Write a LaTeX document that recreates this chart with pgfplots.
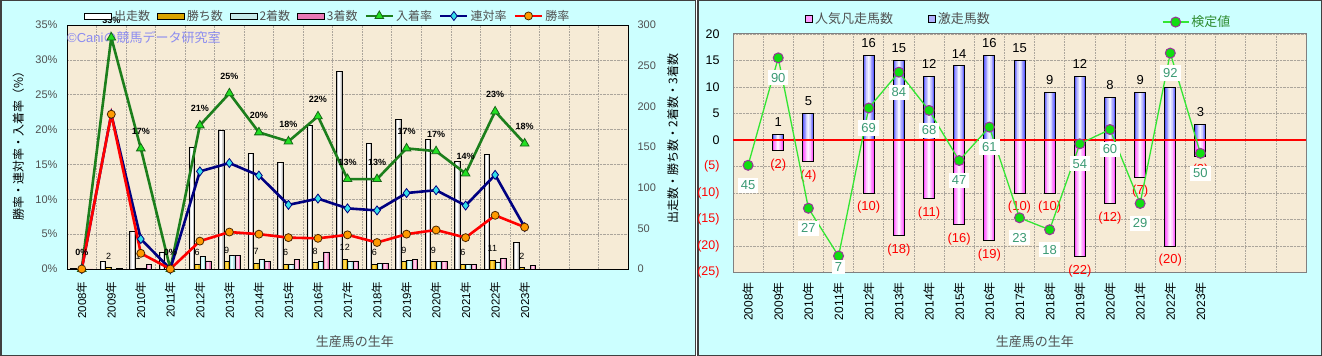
\documentclass[border=0pt]{standalone}
\usepackage{pgfplots}
\usepackage{pgfplotstable}
\pgfplotsset{compat=1.18}
\usepackage{fontspec}
\setmainfont{Liberation Sans}
\newfontfamily\jp{Noto Sans CJK JP}
\newcommand{\fs}[1]{\fontsize{#1bp}{#1bp}\selectfont}
\newcommand{\nen}[1]{#1{\jp 年}}
\definecolor{panel}{HTML}{CCFFFF}
\definecolor{plotbg}{HTML}{F6EBD6}
\definecolor{gridc}{HTML}{ABA59B}
\definecolor{ticktext}{HTML}{505050}
\definecolor{wbD}{HTML}{BDBDBD}
\definecolor{goldD}{HTML}{D9A300}
\definecolor{goldL}{HTML}{FFD84A}
\definecolor{cyD}{HTML}{9FDCDC}
\definecolor{cyL}{HTML}{E4FFFF}
\definecolor{pkD}{HTML}{E978B6}
\definecolor{pkL}{HTML}{FFD0E8}
\definecolor{grnL}{HTML}{1C7F1C}
\definecolor{limeM}{HTML}{22E022}
\definecolor{navyL}{HTML}{000080}
\definecolor{cyanM}{HTML}{33E0E8}
\definecolor{orangeM}{HTML}{FF9A00}
\definecolor{blD}{HTML}{6262FF}
\definecolor{blL}{HTML}{F2F2FF}
\definecolor{mgD}{HTML}{FF55FF}
\definecolor{mgL}{HTML}{FFF0FF}
\definecolor{kline}{HTML}{33E633}
\definecolor{kball}{HTML}{11DD11}
\definecolor{kedge}{HTML}{993399}
\definecolor{ktext}{HTML}{3A9A74}
\definecolor{klegend}{HTML}{2E8B2E}
\definecolor{wm}{HTML}{8C8CF0}
\definecolor{frameC}{HTML}{404040}
\pgfplotsset{/pgf/number format/assume math mode=true}

% left panel counts: 出走数, 勝ち数, 2着数, 3着数, label of 勝ち数
\pgfplotstableread{
x run win sec thi wl
0 1 0 0 0 {}
1 9 2 0 1 2
2 46 1 1 6 1
3 21 0 0 0 {}
4 150 6 15 10 6
5 170 9 17 17 9
6 142 7 12 9 7
7 131 6 6 12 6
8 177 8 10 21 8
9 243 12 9 10 12
10 155 6 7 7 6
11 184 9 11 12 9
12 159 9 9 9 9
13 132 6 6 6 6
14 141 11 8 13 11
15 33 2 0 4 2
}\leftdata

% right panel: 激走馬数, 人気凡走馬数 (negative), label
\pgfplotstableread{
x geki bon bl
1 1 -2 2
2 5 -4 4
4 16 -10 10
5 15 -18 18
6 12 -11 11
7 14 -16 16
8 16 -19 19
9 15 -10 10
10 9 -10 10
11 12 -22 22
12 8 -12 12
13 9 -7 7
14 10 -20 20
15 3 -3 3
}\rightdata

\begin{document}
\begin{tikzpicture}
\useasboundingbox (0bp,0bp) rectangle (1322bp,356bp);
\fill[white] (0bp,0bp) rectangle (1322bp,356bp);
\filldraw[fill=panel, draw=frameC, line width=1.5bp] (0.75bp,0.75bp) rectangle (695.5bp,355.25bp);
\filldraw[fill=panel, draw=frameC, line width=1.5bp] (698bp,0.75bp) rectangle (1321.25bp,355.25bp);

% ---------- left panel: frame, grid, percent axis ----------
\begin{axis}[
  at={(67bp,87bp)}, anchor=south west, scale only axis,
  width=561bp, height=244bp,
  xmin=-0.5, xmax=18.5, ymin=0, ymax=35,
  axis background/.style={fill=plotbg},
  axis line style={draw=black, line width=0.8bp},
  xtick={0,...,15},
  xticklabels={\nen{2008},\nen{2009},\nen{2010},\nen{2011},\nen{2012},\nen{2013},\nen{2014},\nen{2015},\nen{2016},\nen{2017},\nen{2018},\nen{2019},\nen{2020},\nen{2021},\nen{2022},\nen{2023}},
  minor xtick={0.5,1.5,...,17.5},
  xminorgrids, ymajorgrids,
  grid style={densely dotted, draw=gridc, line width=0.6bp},
  minor grid style={densely dotted, draw=gridc, line width=0.6bp},
  ytick={0,5,...,35},
  yticklabels={0\%,5\%,10\%,15\%,20\%,25\%,30\%,35\%},
  major tick length=0pt, minor tick length=0pt,
  xticklabel style={rotate=90, anchor=east, font=\fs{11.5}, text=black},
  xticklabel shift=9bp,
  yticklabel style={font=\fs{11}, text=ticktext, xshift=-6bp},
  xlabel={\jp 生産馬の生年},
  xlabel style={at={(axis description cs:0.513,-0.298)}, anchor=center, font=\fs{13}, text=ticktext},
  ylabel={\jp 勝率・連対率・入着率（\%）},
  ylabel style={at={(axis description cs:-0.087,0.518)}, anchor=center, font=\fs{12}},
]
\addplot[draw=none] coordinates {(0,0)};
\node[anchor=west, text=wm, font=\fs{13}, inner sep=0pt] at (rel axis cs:0,0.947) {©Cani{\jp の競馬データ研究室}};
\end{axis}

% ---------- left panel: count bars (right axis) ----------
\begin{axis}[
  at={(67bp,87bp)}, anchor=south west, scale only axis,
  width=561bp, height=244bp,
  xmin=-0.5, xmax=18.5, ymin=0, ymax=300,
  axis x line=none, axis y line*=right,
  axis line style={draw=black, line width=0.8bp},
  ytick={0,50,...,300}, major tick length=0pt,
  yticklabel style={font=\fs{11}, text=ticktext, xshift=6bp},
  ylabel={\jp 出走数・勝ち数・2着数・3着数},
  ylabel style={at={(axis description cs:1.080,0.535)}, anchor=center, font=\fs{12}},
  ybar,
]
% 出走数
\addplot[bar shift=-8.25bp, bar width=5.5bp, draw=none, fill=wbD] table[x=x,y=run]{\leftdata};
\addplot[bar shift=-8.25bp, bar width=2.6bp, draw=none, fill=white] table[x=x,y=run]{\leftdata};
\addplot[bar shift=-8.25bp, bar width=5.5bp, draw=black, line width=0.7bp, fill=none] table[x=x,y=run]{\leftdata};
% 勝ち数
\addplot[bar shift=-2.75bp, bar width=5.5bp, draw=none, fill=goldD] table[x=x,y=win]{\leftdata};
\addplot[bar shift=-2.75bp, bar width=2.6bp, draw=none, fill=goldL] table[x=x,y=win]{\leftdata};
\addplot[bar shift=-2.75bp, bar width=5.5bp, draw=black, line width=0.7bp, fill=none,
  nodes near coords, point meta=explicit symbolic,
  nodes near coords style={font=\fs{9}, text=black, anchor=south, inner sep=1bp, yshift=7bp}]
  table[x=x,y=win,meta=wl]{\leftdata};
% 2着数
\addplot[bar shift=2.75bp, bar width=5.5bp, draw=none, fill=cyD] table[x=x,y=sec]{\leftdata};
\addplot[bar shift=2.75bp, bar width=2.6bp, draw=none, fill=cyL] table[x=x,y=sec]{\leftdata};
\addplot[bar shift=2.75bp, bar width=5.5bp, draw=black, line width=0.7bp, fill=none] table[x=x,y=sec]{\leftdata};
% 3着数
\addplot[bar shift=8.25bp, bar width=5.5bp, draw=none, fill=pkD] table[x=x,y=thi]{\leftdata};
\addplot[bar shift=8.25bp, bar width=2.6bp, draw=none, fill=pkL] table[x=x,y=thi]{\leftdata};
\addplot[bar shift=8.25bp, bar width=5.5bp, draw=black, line width=0.7bp, fill=none] table[x=x,y=thi]{\leftdata};
\end{axis}

% ---------- left panel: rate lines ----------
\begin{axis}[
  at={(67bp,87bp)}, anchor=south west, scale only axis,
  width=561bp, height=244bp,
  xmin=-0.5, xmax=18.5, ymin=0, ymax=35,
  hide axis, clip=false,
  legend columns=-1,
  legend style={at={(0.465,1.037)}, anchor=center, draw=none, fill=none, font=\fs{12}, text=ticktext, inner sep=0pt,
    /tikz/every even column/.append style={column sep=5bp}},
  legend image code/.code={\draw[mark repeat=2, mark phase=2, #1] plot coordinates {(0bp,0bp) (13.5bp,0bp) (27bp,0bp)};},
]
\addlegendimage{legend image code/.code={\draw[draw=black, line width=0.7bp, fill=white] (0bp,-3bp) rectangle (27bp,3bp);}}
\addlegendentry{\jp 出走数}
\addlegendimage{legend image code/.code={\draw[draw=black, line width=0.7bp, fill=goldD] (0bp,-3bp) rectangle (27bp,3bp);}}
\addlegendentry{\jp 勝ち数}
\addlegendimage{legend image code/.code={\draw[draw=black, line width=0.7bp, fill=cyD!60!white] (0bp,-3bp) rectangle (27bp,3bp);}}
\addlegendentry{\jp 2着数}
\addlegendimage{legend image code/.code={\draw[draw=black, line width=0.7bp, fill=pkD] (0bp,-3bp) rectangle (27bp,3bp);}}
\addlegendentry{\jp 3着数}
\addplot[color=grnL, line width=2.6bp, mark=triangle*, mark size=5bp,
  mark options={fill=limeM, draw=grnL!80!black, line width=0.8bp},
  nodes near coords, point meta=explicit symbolic,
  nodes near coords style={font=\bfseries\fs{9}, text=black, anchor=center, yshift=17bp}]
  coordinates {(0,0) [0\%] (1,33.2) [33\%] (2,17.3) [17\%] (3,0) [0\%] (4,20.6) [21\%] (5,25.2) [25\%] (6,19.6) [20\%] (7,18.3) [18\%] (8,21.9) [22\%] (9,12.9) [13\%] (10,12.9) [13\%] (11,17.3) [17\%] (12,16.9) [17\%] (13,13.7) [14\%] (14,22.6) [23\%] (15,18.0) [18\%]};
\addlegendentry{\jp 入着率}
\addplot[color=navyL, line width=2.6bp, mark=diamond*, mark size=4.5bp,
  mark options={fill=cyanM, draw=navyL, line width=0.8bp}]
  coordinates {(0,0) (1,22.2) (2,4.3) (3,0) (4,14.0) (5,15.2) (6,13.4) (7,9.2) (8,10.1) (9,8.7) (10,8.4) (11,10.9) (12,11.3) (13,9.1) (14,13.5) (15,6.0)};
\addlegendentry{\jp 連対率}
\addplot[color=red, line width=2.6bp, mark=*, mark size=4bp,
  mark options={fill=orangeM, draw=black!70!orange, line width=0.8bp}]
  coordinates {(0,0) (1,22.2) (2,2.25) (3,0) (4,4.0) (5,5.3) (6,5.0) (7,4.5) (8,4.4) (9,4.9) (10,3.8) (11,5.0) (12,5.6) (13,4.5) (14,7.7) (15,6.0)};
\addlegendentry{\jp 勝率}
\end{axis}

% ---------- right panel: bars ----------
\begin{axis}[
  at={(733bp,83.3bp)}, anchor=south west, scale only axis,
  width=573bp, height=238.7bp,
  xmin=-0.5, xmax=18.5, ymin=-25, ymax=20,
  axis background/.style={fill=plotbg},
  axis line style={draw=gray, line width=1bp},
  xtick={0,...,15},
  xticklabels={\nen{2008},\nen{2009},\nen{2010},\nen{2011},\nen{2012},\nen{2013},\nen{2014},\nen{2015},\nen{2016},\nen{2017},\nen{2018},\nen{2019},\nen{2020},\nen{2021},\nen{2022},\nen{2023}},
  minor xtick={0.5,1.5,...,17.5},
  xminorgrids, ymajorgrids,
  grid style={densely dotted, draw=gridc, line width=0.6bp},
  minor grid style={densely dotted, draw=gridc, line width=0.6bp},
  ytick={-25,-20,...,20},
  yticklabels={\textcolor{red}{(25)},\textcolor{red}{(20)},\textcolor{red}{(15)},\textcolor{red}{(10)},\textcolor{red}{(5)},0,5,10,15,20},
  major tick length=0pt, minor tick length=0pt,
  xticklabel style={rotate=90, anchor=east, font=\fs{12}, text=black},
  xticklabel shift=6bp,
  yticklabel style={font=\fs{12.5}, text=black, xshift=-10bp},
  xlabel={\jp 生産馬の生年},
  xlabel style={at={(axis description cs:0.527,-0.289)}, anchor=center, font=\fs{13}, text=ticktext},
  legend columns=-1,
  legend style={at={(0.289,1.064)}, anchor=center, draw=none, fill=none, font=\fs{13}, text=ticktext, inner sep=0pt,
    /tikz/every even column/.append style={column sep=33bp}},
]
\addlegendimage{legend image code/.code={\draw[draw=black, line width=0.8bp, fill=mgD!60!white] (0bp,-3.5bp) rectangle (7bp,3.5bp);}}
\addlegendentry{\jp 人気凡走馬数}
\addlegendimage{legend image code/.code={\draw[draw=black, line width=0.8bp, fill=blD!50!white] (0bp,-3.5bp) rectangle (7bp,3.5bp);}}
\addlegendentry{\jp 激走馬数}
% 人気凡走馬数 (negative)
\addplot[forget plot, ybar, bar shift=0pt, bar width=11bp, draw=none, fill=mgD] table[x=x,y=bon]{\rightdata};
\addplot[forget plot, ybar, bar shift=0pt, bar width=8bp, draw=none, fill=mgD!60!mgL] table[x=x,y=bon]{\rightdata};
\addplot[forget plot, ybar, bar shift=0pt, bar width=5bp, draw=none, fill=mgD!25!mgL] table[x=x,y=bon]{\rightdata};
\addplot[forget plot, ybar, bar shift=0pt, bar width=2bp, draw=none, fill=mgL] table[x=x,y=bon]{\rightdata};
\addplot[forget plot, ybar, bar shift=0pt, bar width=11bp, draw=black, line width=1bp, fill=none,
  nodes near coords={(\pgfplotspointmeta)}, point meta=explicit symbolic,
  nodes near coords style={font=\fs{13}, text=red, anchor=north, yshift=-4.5bp}]
  table[x=x,y=bon,meta=bl]{\rightdata};
% 激走馬数
\addplot[forget plot, ybar, bar shift=0pt, bar width=11bp, draw=none, fill=blD] table[x=x,y=geki]{\rightdata};
\addplot[forget plot, ybar, bar shift=0pt, bar width=8bp, draw=none, fill=blD!60!blL] table[x=x,y=geki]{\rightdata};
\addplot[forget plot, ybar, bar shift=0pt, bar width=5bp, draw=none, fill=blD!25!blL] table[x=x,y=geki]{\rightdata};
\addplot[forget plot, ybar, bar shift=0pt, bar width=2bp, draw=none, fill=blL] table[x=x,y=geki]{\rightdata};
\addplot[forget plot, ybar, bar shift=0pt, bar width=11bp, draw=black, line width=1bp, fill=none,
  nodes near coords, point meta=explicit symbolic,
  nodes near coords style={font=\fs{13}, text=black, anchor=south, yshift=4bp}]
  table[x=x,y=geki,meta=geki]{\rightdata};
\addplot[color=red, line width=2.8bp, forget plot] coordinates {(-0.5,0) (18.5,0)};
\end{axis}

% ---------- right panel: 検定値 ----------
\begin{axis}[
  at={(733bp,83.3bp)}, anchor=south west, scale only axis,
  width=573bp, height=238.7bp,
  xmin=-0.5, xmax=18.5, ymin=0, ymax=100,
  hide axis, clip=false,
  legend style={at={(0.81,1.050)}, anchor=center, draw=none, fill=none, font=\fs{13}, text=klegend, inner sep=0pt},
  legend image code/.code={\draw[mark repeat=2, mark phase=2, #1] plot coordinates {(0bp,0bp) (13bp,0bp) (26bp,0bp)};},
]
\addplot[color=kline, line width=1.3bp, mark=*, mark size=5bp,
  mark options={fill=kball, draw=kedge, line width=1bp},
  nodes near coords, point meta=explicit symbolic,
  nodes near coords style={font=\fs{13}, text=ktext, fill=white, anchor=center, yshift=-20bp, inner sep=3bp},
  coordinate style/.condition={x==3}{yshift=9bp}]
  coordinates {(0,45) [45] (1,90) [90] (2,27) [27] (3,7) [7] (4,69) [69] (5,84) [84] (6,68) [68] (7,47) [47] (8,61) [61] (9,23) [23] (10,18) [18] (11,54) [54] (12,60) [60] (13,29) [29] (14,92) [92] (15,50) [50]};
\addlegendentry{\jp 検定値}
\end{axis}
\end{tikzpicture}
\end{document}
